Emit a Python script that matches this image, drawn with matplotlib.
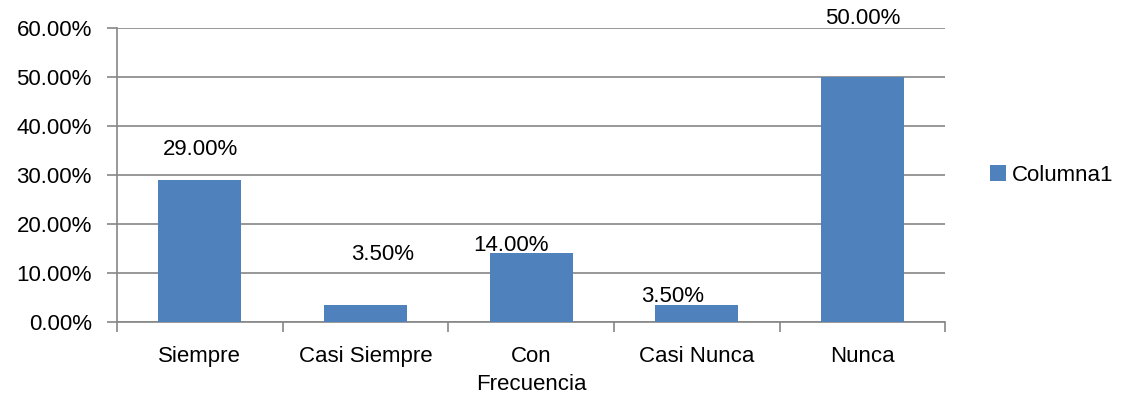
import matplotlib.pyplot as plt
import matplotlib.ticker as mticker

categorias = ["Siempre", "Casi Siempre", "Con\nFrecuencia", "Casi Nunca", "Nunca"]
valores = [0.29, 0.035, 0.14, 0.035, 0.50]
etiquetas = ["29.00%", "3.50%", "14.00%", "3.50%", "50.00%"]
serie = "Columna1"

plt.rcParams['font.family'] = ['Liberation Sans', 'DejaVu Sans']
plt.rcParams['font.size'] = 16

fig = plt.figure(figsize=(11.24, 4.01), dpi=100)
ax = fig.add_axes([0.104, 0.197, 0.737, 0.733])

x = list(range(len(categorias)))
barras = ax.bar(x, valores, width=0.5, color="#4F81BD", label=serie, zorder=3)

# desplazamientos de las etiquetas (en pixeles) como en el original
desp = [(1, 30), (17, 50), (-20, 8), (-24, 8), (0, 59)]
for xi, v, t, (dx, dy) in zip(x, valores, etiquetas, desp):
    ax.annotate(t, (xi, v), xytext=(dx * 0.72, dy * 0.72), textcoords="offset points",
                ha="center", va="center", fontsize=16, color="black")

ax.set_xlim(-0.5, len(categorias) - 0.5)
ax.set_ylim(0, 0.6)
ax.yaxis.set_major_locator(mticker.MultipleLocator(0.1))
ax.yaxis.set_major_formatter(mticker.FuncFormatter(lambda v, p: f"{v*100:.2f}%"))
ax.grid(axis="y", color="#868686", linewidth=1.2, zorder=0)

ax.set_xticks(x)
ax.set_xticklabels(categorias, va="top", linespacing=1.45)
ax.set_xticks([i - 0.5 for i in range(len(categorias) + 1)], minor=True)
ax.tick_params(axis="x", which="major", length=0, pad=17)
ax.tick_params(axis="x", which="minor", length=7, width=1.2, color="#868686")
ax.tick_params(axis="y", length=7, width=1.2, color="#868686", pad=11)

for s in ["top", "right"]:
    ax.spines[s].set_visible(False)
for s in ["left", "bottom"]:
    ax.spines[s].set_color("#868686")
    ax.spines[s].set_linewidth(1.2)

ax.legend(loc="center left", bbox_to_anchor=(1.03, 0.5), frameon=False,
          handlelength=0.7, handleheight=0.7, handletextpad=0.3, fontsize=16)

plt.savefig("out.png", dpi=100)
